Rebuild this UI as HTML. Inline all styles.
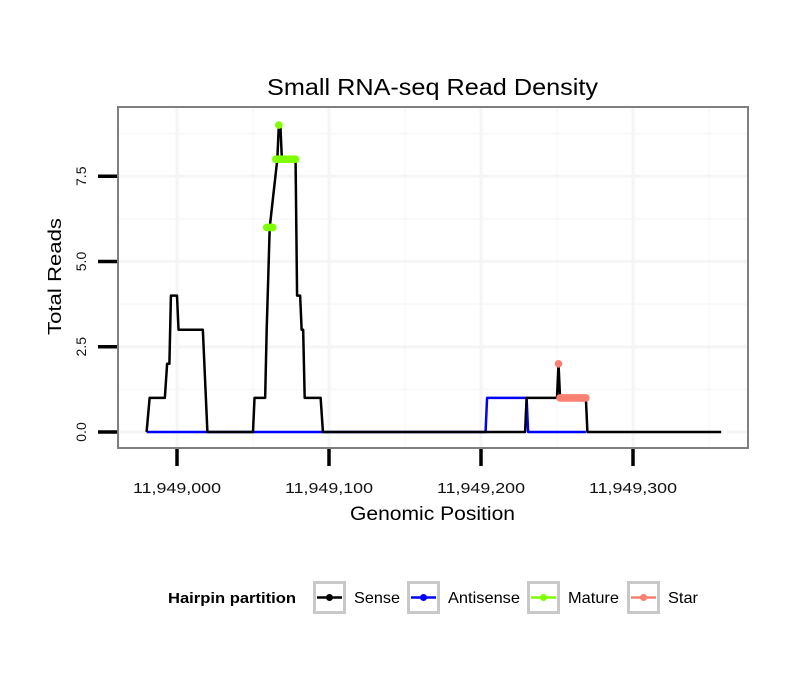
<!DOCTYPE html>
<html><head><meta charset="utf-8"><style>
body{margin:0;background:#fff;}
svg text{font-family:"Liberation Sans",sans-serif;}
</style></head><body>
<svg id="chart" width="810" height="690" viewBox="0 0 810 690" xmlns="http://www.w3.org/2000/svg">
<rect width="810" height="690" fill="#fff"/>
<text x="267" y="95" font-size="23" textLength="331" lengthAdjust="spacingAndGlyphs">Small RNA-seq Read Density</text>
<g id="grid"></g>
<g id="series"></g>
<rect x="118" y="107" width="630" height="341" fill="none" stroke="#7f7f7f" stroke-width="2"/>
<g id="axes"></g>
<text transform="translate(61,335) rotate(-90)" font-size="18" textLength="117" lengthAdjust="spacingAndGlyphs">Total Reads</text>
<text x="350" y="520" font-size="19" textLength="165" lengthAdjust="spacingAndGlyphs">Genomic Position</text>
<g id="legend"></g>
</svg>
<script>
const xTicks=[11949000,11949100,11949200,11949300];
const xTickLabels=["11,949,000","11,949,100","11,949,200","11,949,300"];
const yTicks=[0,2.5,5,7.5];
const yTickLabels=["0.0","2.5","5.0","7.5"];
const senseX=[-20,-18,-8,-6.5,-5,-4,0,1,17,20,50,51,58,59,61,66,67,68,69,78,79,81,82,83,84,94.5,96,229,230,250,251,252,269,270,358];
const senseY=[0,1,1,2,2,4,4,3,3,0,0,1,1,3,6,8,9,9,8,8,4,4,3,3,1,1,0,0,1,1,2,1,1,0,0];
const antiX=[-20,203,204,230,231,269];
const antiY=[0,0,1,1,0,0];
const matureX=[59,60,61,62,63,65,66,68,69,70,71,72,73,74,75,76,77,78,67];
const matureY=[6,6,6,6,6,8,8,8,8,8,8,8,8,8,8,8,8,8,9];
const starX=[251,252,253,254,255,256,257,258,259,260,261,262,263,264,265,266,267,268,269];
const starY=[2,1,1,1,1,1,1,1,1,1,1,1,1,1,1,1,1,1,1];
const BASE=11949000;
const NS="http://www.w3.org/2000/svg";
function sx(v){return 177+(v-BASE)*1.52;}
function sxo(o){return sx(BASE+o);}
function sy(v){return 432-v*34.1;}
function mk(tag,attrs,parent){const e=document.createElementNS(NS,tag);for(const k in attrs)e.setAttribute(k,attrs[k]);parent.appendChild(e);return e;}
const grid=document.getElementById('grid'),axes=document.getElementById('axes'),series=document.getElementById('series'),legend=document.getElementById('legend');
for(let i=0;i<yTicks.length;i++){const v=yTicks[i]+1.25;const l=mk('line',{x1:118,x2:748,y1:sy(v),y2:sy(v),stroke:'#f8f8f8','stroke-width':1.5},grid);

}
for(let i=0;i<xTicks.length;i++){const v=xTicks[i]+50;const l=mk('line',{x1:sx(v),x2:sx(v),y1:107,y2:448,stroke:'#f8f8f8','stroke-width':1.5},grid);

}
for(let i=0;i<yTicks.length;i++){const l=mk('line',{x1:118,x2:748,y1:sy(yTicks[i]),y2:sy(yTicks[i]),stroke:'#f5f5f5','stroke-width':3},grid);


const t=mk('line',{x1:98,x2:117,y1:sy(yTicks[i]),y2:sy(yTicks[i]),stroke:'#000','stroke-width':3.5},axes);


const tx=mk('text',{transform:`translate(86,${sy(yTicks[i])}) rotate(-90)`,'font-size':14,'text-anchor':'middle',fill:'#111'},axes);tx.textContent=yTickLabels[i];

}
for(let i=0;i<xTicks.length;i++){const l=mk('line',{x1:sx(xTicks[i]),x2:sx(xTicks[i]),y1:107,y2:448,stroke:'#f5f5f5','stroke-width':3},grid);


const t=mk('line',{x1:sx(xTicks[i]),x2:sx(xTicks[i]),y1:449,y2:466,stroke:'#000','stroke-width':3.5},axes);


const tx=mk('text',{x:sx(xTicks[i])-44,y:493,'font-size':15,textLength:88,lengthAdjust:'spacingAndGlyphs',fill:'#111'},axes);tx.textContent=xTickLabels[i];

}
function line(xs,ys,color,name){const p=xs.map((x,i)=>sxo(x)+','+sy(ys[i])).join(' ');const e=mk('polyline',{points:p,fill:'none',stroke:color,'stroke-width':2.5,'stroke-linejoin':'round'},series);

}
function pts(xs,ys,color,name){for(let i=0;i<xs.length;i++){const c=mk('circle',{cx:sxo(xs[i]),cy:sy(ys[i]),r:3.8,fill:color},series);

}}
line(antiX,antiY,'#0000ff','antisense-line');
line(senseX,senseY,'#000','sense-line');
pts(matureX,matureY,'#7fff00','mature-point');
pts(starX,starY,'#fa8072','star-point');
const lt=mk('text',{x:168,y:603,'font-size':15,'font-weight':'bold',textLength:128,lengthAdjust:'spacingAndGlyphs'},legend);lt.textContent='Hairpin partition';


const keys=[['Sense','#000',313,354,46],['Antisense','#0000ff',407,448,72],['Mature','#7fff00',527,568,51],['Star','#fa8072',627,668,30]];
keys.forEach(k=>{const g=mk('g',{},legend);


mk('rect',{x:k[2]+1.5,y:582.5,width:30,height:30,fill:'#fff',stroke:'#c8c8c8','stroke-width':3},g);
mk('line',{x1:k[2]+4,x2:k[2]+29,y1:597.5,y2:597.5,stroke:k[1],'stroke-width':2.5},g);
mk('circle',{cx:k[2]+16.5,cy:597.5,r:3.5,fill:k[1]},g);
const t=mk('text',{x:k[3],y:603,'font-size':16,textLength:k[4],lengthAdjust:'spacingAndGlyphs'},g);t.textContent=k[0];});
</script>
</body></html>
